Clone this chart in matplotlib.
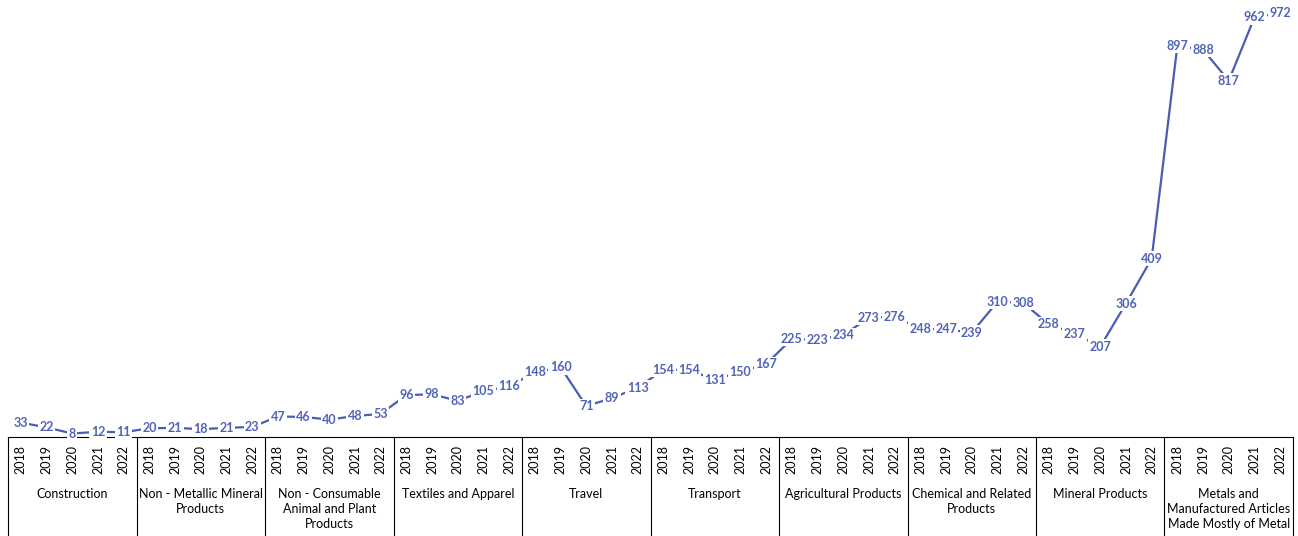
import matplotlib.pyplot as plt
import numpy as np

plt.rcParams['font.family'] = ['Lato', 'DejaVu Sans']

categories = [
    "Construction",
    "Non - Metallic Mineral\nProducts",
    "Non - Consumable\nAnimal and Plant\nProducts",
    "Textiles and Apparel",
    "Travel",
    "Transport",
    "Agricultural Products",
    "Chemical and Related\nProducts",
    "Mineral Products",
    "Metals and\nManufactured Articles\nMade Mostly of Metal",
]
years = ["2018", "2019", "2020", "2021", "2022"]

construction = [33, 22, 8, 12, 11]
non_metallic = [20, 21, 18, 21, 23]
non_consumable = [47, 46, 40, 48, 53]
textiles = [96, 98, 83, 105, 116]
travel = [148, 160, 71, 89, 113]
transport = [154, 154, 131, 150, 167]
agricultural = [225, 223, 234, 273, 276]
chemical = [248, 247, 239, 310, 308]
mineral = [258, 237, 207, 306, 409]
metals = [897, 888, 817, 962, 972]

series = [construction, non_metallic, non_consumable, textiles, travel,
          transport, agricultural, chemical, mineral, metals]
values = [v for group in series for v in group]

line_color = '#4a5db3'
label_color = '#4f63b8'

fig = plt.figure(figsize=(12.98, 5.36), dpi=100)
ax = fig.add_axes([8 / 1298, 99 / 536, 1285 / 1298, 437 / 536])

n = len(values)
x = np.arange(n)
ax.plot(x, values, color=line_color, lw=1.6, zorder=2)

for xi, v in zip(x, values):
    ax.text(xi, v, str(v), ha='center', va='center', fontsize=9,
            fontweight='bold', color=label_color, zorder=3,
            bbox=dict(facecolor='white', edgecolor='none', pad=1.0))

ax.set_xlim(-0.5, n - 0.5)
ax.set_ylim(0, 1002)

for s in ['top', 'right', 'left']:
    ax.spines[s].set_visible(False)
ax.spines['bottom'].set_color('black')
ax.spines['bottom'].set_linewidth(0.8)
ax.set_yticks([])

ax.set_xticks(x)
ax.set_xticklabels(years * len(categories), rotation=90, fontsize=9)
ax.tick_params(axis='x', length=0, pad=6)

# group separators and category names below the axis
bottom = -99 / 437
trans = ax.get_xaxis_transform()
for i in range(len(categories) + 1):
    xb = i * 5 - 0.5
    ax.plot([xb, xb], [0, bottom], color='black', lw=0.8,
            transform=trans, clip_on=False)
for i, name in enumerate(categories):
    ax.text(i * 5 + 2, -51 / 437, name, transform=trans, ha='center',
            va='top', fontsize=9, linespacing=1.3)

fig.savefig('out.png', dpi=100)
